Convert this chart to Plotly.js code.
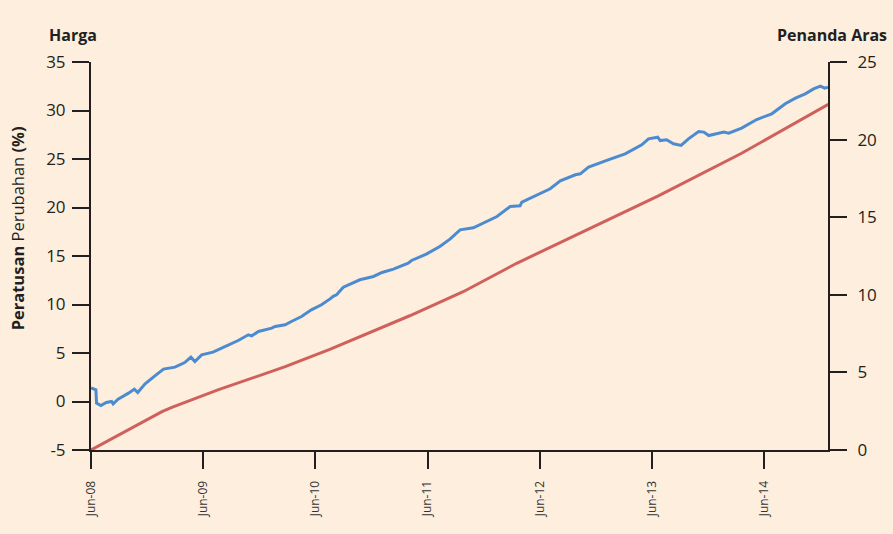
<!DOCTYPE html>
<html>
<head>
<meta charset="utf-8">
<script src="https://cdn.plot.ly/plotly-3.0.1.min.js"></script>
<style>
html,body{margin:0;padding:0;background:#fdeedd;}
#chart{width:893px;height:534px;}
</style>
</head>
<body>
<div id="chart"></div>
<script>
// Harga (left axis, % change)
const hargaDates = [
  "2008-06-01","2008-06-17","2008-06-19","2008-07-03","2008-07-21","2008-08-07","2008-08-12","2008-08-28",
  "2008-10-01","2008-10-20","2008-10-31","2008-11-13","2008-11-24","2008-12-30","2009-01-23","2009-03-01",
  "2009-04-02","2009-04-22","2009-05-05","2009-05-27","2009-07-03","2009-07-31","2009-09-23","2009-10-26",
  "2009-11-06","2009-11-28","2010-01-10","2010-01-21","2010-02-23","2010-03-15","2010-04-17","2010-05-19",
  "2010-06-21","2010-07-20","2010-07-29","2010-08-09","2010-08-31","2010-10-24","2010-12-07","2011-01-04",
  "2011-02-10","2011-03-30","2011-04-10","2011-05-28","2011-07-11","2011-08-13","2011-09-15","2011-10-28",
  "2011-11-30","2012-01-13","2012-02-25","2012-03-28","2012-04-03","2012-05-21","2012-07-04","2012-08-06",
  "2012-09-24","2012-10-10","2012-11-06","2013-01-11","2013-03-05","2013-04-28","2013-05-20","2013-06-19",
  "2013-06-27","2013-07-18","2013-08-09","2013-09-03","2013-09-27","2013-10-30","2013-11-16","2013-12-02",
  "2014-01-20","2014-02-05","2014-03-19","2014-05-07","2014-06-25","2014-08-08","2014-09-10","2014-10-12",
  "2014-11-08","2014-11-30","2014-12-14","2014-12-25"
];
const hargaValues = [
  1.4,1.2,-0.17,-0.41,-0.1,0.0,-0.24,0.24,
  0.86,1.28,0.93,1.38,1.82,2.75,3.34,3.54,
  4.02,4.57,4.12,4.81,5.09,5.5,6.29,6.88,
  6.77,7.22,7.56,7.73,7.91,8.25,8.76,9.45,
  9.97,10.6,10.85,11.0,11.79,12.55,12.89,13.3,
  13.65,14.27,14.54,15.19,15.98,16.74,17.7,17.91,
  18.39,19.07,20.1,20.18,20.56,21.24,21.93,22.75,
  23.37,23.47,24.16,24.94,25.53,26.46,27.08,27.25,
  26.9,26.98,26.57,26.4,27.08,27.84,27.77,27.42,
  27.77,27.66,28.18,29.07,29.66,30.69,31.27,31.72,
  32.23,32.51,32.3,32.4
];
// Penanda Aras (right axis)
const arasDates = ["2008-06-01","2009-01-18","2009-02-19","2009-07-19","2010-02-23","2010-07-18","2011-04-04",
  "2011-09-25","2012-03-17","2012-10-10","2013-06-21","2014-03-19","2014-12-26"];
const arasValues = [0,2.47,2.75,3.87,5.37,6.49,8.65,10.2,12.03,13.96,16.37,19.12,22.27];

const xTickVals = ["2008-06-01","2009-06-01","2010-06-01","2011-06-01","2012-06-01","2013-06-01","2014-06-01"];
const xTickText = ["Jun-08","Jun-09","Jun-10","Jun-11","Jun-12","Jun-13","Jun-14"];
const leftTickVals = [-5,0,5,10,15,20,25,30,35];
const leftTickText = ["-5","0","5","10","15","20","25","30","35"];
const rightTickVals = [0,5,10,15,20,25];
const rightTickText = ["0","5","10","15","20","25"];

const axisColor = "#231f20";
const fontFam = "'Open Sans', 'Noto Sans', sans-serif";

const traces = [
  {x: arasDates, y: arasValues, type: "scatter", mode: "lines", yaxis: "y2",
   line: {color: "#d0605c", width: 3}, hoverinfo: "skip", name: "Penanda Aras"},
  {x: hargaDates, y: hargaValues, type: "scatter", mode: "lines", yaxis: "y",
   line: {color: "#4d8bd0", width: 3}, hoverinfo: "skip", name: "Harga"}
];

const layout = {
  width: 893, height: 534,
  paper_bgcolor: "#fdeedd", plot_bgcolor: "#fdeedd",
  margin: {l: 91, r: 65, t: 62, b: 84},
  showlegend: false,
  font: {family: fontFam, color: "#231f20"},
  xaxis: {
    type: "date", range: ["2008-06-01", "2014-12-25"],
    tickvals: xTickVals, ticktext: xTickText, tickangle: -90,
    tickfont: {size: 12, color: "#333"}, ticklabelstandoff: 7,
    ticks: "outside", ticklen: 17, tickwidth: 2, tickcolor: axisColor,
    showline: true, linecolor: axisColor, linewidth: 2,
    showgrid: false, zeroline: false
  },
  yaxis: {
    range: [-5, 35], tickvals: leftTickVals, ticktext: leftTickText,
    tickfont: {size: 17}, ticklabelstandoff: 3,
    ticks: "outside", ticklen: 17, tickwidth: 2, tickcolor: axisColor,
    showline: true, linecolor: axisColor, linewidth: 2,
    showgrid: false, zeroline: false
  },
  yaxis2: {
    range: [0, 25], overlaying: "y", side: "right", anchor: "x",
    tickvals: rightTickVals, ticktext: rightTickText,
    tickfont: {size: 17}, ticklabelstandoff: 7,
    ticks: "outside", ticklen: 17, tickwidth: 2, tickcolor: axisColor,
    showline: true, linecolor: axisColor, linewidth: 2,
    showgrid: false, zeroline: false
  },
  annotations: [
    {text: "<b>Harga</b>", xref: "paper", yref: "paper", x: -0.06, y: 1.0, yshift: 14,
     xanchor: "left", yanchor: "bottom", showarrow: false, font: {size: 16}},
    {text: "<b>Penanda Aras</b>", xref: "paper", yref: "paper", x: 1.0, xshift: 61, y: 1.0, yshift: 14,
     xanchor: "right", yanchor: "bottom", showarrow: false, font: {size: 16}},
    {text: "<b>Peratusan</b> Perubahan <b>(%)</b>", xref: "paper", yref: "paper", x: -0.1, xshift: 0, y: 0.572,
     xanchor: "center", yanchor: "middle", textangle: -90, showarrow: false, font: {size: 16.5}}
  ]
};

Plotly.newPlot("chart", traces, layout, {displayModeBar: false, staticPlot: true});
</script>
</body>
</html>
